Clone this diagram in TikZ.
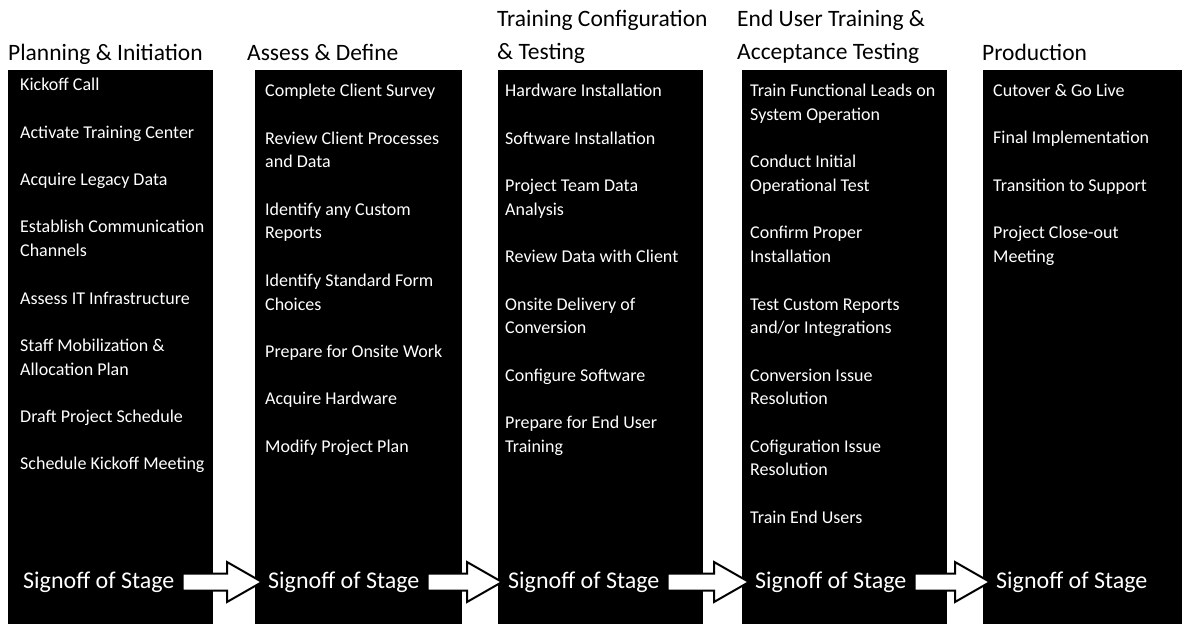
\documentclass[tikz,border=0pt]{standalone}
\usepackage{fontspec}
\setmainfont{Carlito}
\usetikzlibrary{calc}
\tikzset{
  stage/.style    = { fill=black },
  phase/.style    = { anchor=base west, inner sep=0pt, align=left, font=\fontsize{23.5}{33}\selectfont },
  task/.style     = { anchor=north west, inner sep=0pt, align=left, text=white, font=\fontsize{18}{23.7}\selectfont },
  signoff/.style  = { anchor=base west, inner sep=0pt, text=white, font=\fontsize{24}{28}\selectfont },
  handover/.style = { draw=black, fill=white, line width=2pt, line join=miter }
}
\newcommand{\nexttask}{\\[23.7pt]}
\newcommand{\stagearrow}[2]{%
  \draw[handover] let \p1 = (#1.base east), \p2 = (#2.base west) in
    (\x1+8pt, \y1+14.5pt) -- (\x2-41pt, \y1+14.5pt) -- (\x2-41pt, \y1+26pt)
    -- (\x2-6pt, \y1+6pt) -- (\x2-41pt, \y1-14pt) -- (\x2-41pt, \y1-2.5pt)
    -- (\x1+8pt, \y1-2.5pt) -- cycle;}

\begin{document}
\begin{tikzpicture}[x=1pt, y=-1pt]
  \useasboundingbox (0,0) rectangle (1182,624);

  % Draw all stages
  \fill[stage] (8,70)   rectangle (213,624);
  \fill[stage] (255,70) rectangle (462,624);
  \fill[stage] (498,70) rectangle (703,624);
  \fill[stage] (742,70) rectangle (947,624);
  \fill[stage] (983,70) rectangle (1182,624);

  % Draw stage names
  \node[phase] (hplan)   at (8,60)   {Planning \& Initiation};
  \node[phase] (hassess) at (247,60) {Assess \& Define};
  \node[phase] (hconfig) at (497,59) {Training Configuration\\\& Testing};
  \node[phase] (haccept) at (737,59) {End User Training \&\\Acceptance Testing};
  \node[phase] (hprod)   at (982,60) {Production};

  % Draw tasks
  \node[task] (plan) at (20,78) {Kickoff Call\nexttask Activate Training Center\nexttask
    Acquire Legacy Data\nexttask Establish Communication\\Channels\nexttask
    Assess IT Infrastructure\nexttask Staff Mobilization \&\\Allocation Plan\nexttask
    Draft Project Schedule\nexttask Schedule Kickoff Meeting};
  \node[task] (assess) at (265,84) {Complete Client Survey\nexttask
    Review Client Processes\\and Data\nexttask Identify any Custom\\Reports\nexttask
    Identify Standard Form\\Choices\nexttask Prepare for Onsite Work\nexttask
    Acquire Hardware\nexttask Modify Project Plan};
  \node[task] (config) at (505,84) {Hardware Installation\nexttask Software Installation\nexttask
    Project Team Data\\Analysis\nexttask Review Data with Client\nexttask
    Onsite Delivery of\\Conversion\nexttask Configure Software\nexttask
    Prepare for End User\\Training};
  \node[task] (accept) at (750,84) {Train Functional Leads on\\System Operation\nexttask
    Conduct Initial\\Operational Test\nexttask Confirm Proper\\Installation\nexttask
    Test Custom Reports\\and/or Integrations\nexttask Conversion Issue\\Resolution\nexttask
    Cofiguration Issue\\Resolution\nexttask Train End Users};
  \node[task] (prod) at (993,84) {Cutover \& Go Live\nexttask Final Implementation\nexttask
    Transition to Support\nexttask Project Close-out\\Meeting};

  % Draw signoffs
  \node[signoff] (splan)   at (23,588)  {Signoff of Stage};
  \node[signoff] (sassess) at (268,588) {Signoff of Stage};
  \node[signoff] (sconfig) at (508,588) {Signoff of Stage};
  \node[signoff] (saccept) at (755,588) {Signoff of Stage};
  \node[signoff] (sprod)   at (996,588) {Signoff of Stage};

  % Draw arrows
  \stagearrow{splan}{sassess}
  \stagearrow{sassess}{sconfig}
  \stagearrow{sconfig}{saccept}
  \stagearrow{saccept}{sprod}
\end{tikzpicture}
\end{document}
